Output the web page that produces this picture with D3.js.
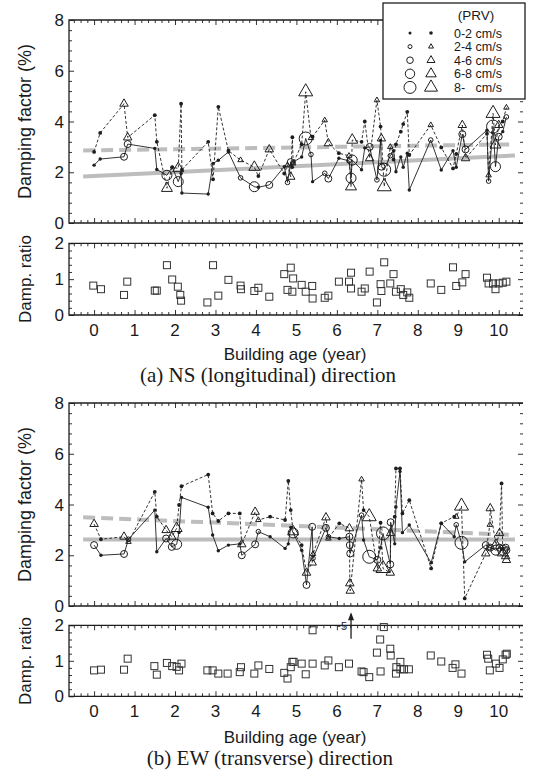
<!DOCTYPE html>
<html><head><meta charset="utf-8">
<script src="https://cdn.jsdelivr.net/npm/d3@7/dist/d3.min.js"></script>
<style>
body{margin:0;background:#fff}
svg{display:block}
text{font-family:"Liberation Sans",Arial,sans-serif;fill:#1a1a1a}
.serif{font-family:"Liberation Serif","Times New Roman",serif}
</style>
</head><body>
<svg id="c" width="541" height="777"></svg>
<script>
// ---------- tick labels / categories ----------
const xTicks = [0,1,2,3,4,5,6,7,8,9,10];
const yTicksDamp = [0,2,4,6,8];
const yTicksRatio = [0,1,2];
const prvLabels = ["0-2 cm/s","2-4 cm/s","4-6 cm/s","6-8 cm/s","8-   cm/s"];

// ---------- (a) NS direction ----------
const nsAge  = [0.00,0.15,0.74,0.83,1.50,1.55,1.80,1.93,2.08,2.15,2.17,2.82,2.94,3.07,3.32,3.62,3.96,4.06,4.33,4.70,4.78,4.86,4.90,4.92,5.13,5.23,5.36,5.40,5.70,5.79,6.05,6.30,6.35,6.38,6.61,6.69,6.81,6.99,7.08,7.10,7.17,7.32,7.40,7.46,7.58,7.64,7.74,7.79,8.32,8.58,8.87,8.95,9.10,9.18,9.71,9.75,9.86,9.92,10.00,10.10,10.19];
const nsCirc = [2.28,2.52,2.61,3.11,2.94,2.11,1.88,2.20,1.63,1.95,1.18,1.14,2.35,2.47,2.80,1.78,1.43,1.41,1.50,2.22,1.60,2.40,2.20,2.40,2.60,3.33,2.70,1.63,1.96,1.75,2.55,2.45,1.77,2.48,2.10,2.96,3.00,1.70,3.25,2.22,2.10,2.65,2.85,2.02,2.60,2.20,2.75,1.30,3.27,2.09,2.85,2.20,3.50,2.90,3.66,1.65,3.80,2.22,3.40,3.60,4.18];
const nsTri  = [2.80,3.55,4.70,3.37,4.25,3.20,1.37,2.20,2.15,4.70,2.10,3.20,1.72,4.58,2.85,2.48,2.20,1.85,2.90,1.95,2.28,1.82,3.38,2.35,3.10,5.17,3.35,3.40,4.05,3.14,2.75,2.65,1.43,3.27,3.20,4.00,2.55,4.84,3.80,3.33,1.43,3.00,2.50,3.10,3.60,3.90,4.38,2.68,3.86,2.98,2.15,2.72,3.86,2.55,3.52,1.88,4.32,3.08,3.86,4.00,4.55];
const nsPrv  = [0,0,2,2,0,0,3,0,3,0,0,0,0,0,0,1,3,0,2,0,1,2,0,1,0,4,1,0,1,2,0,1,3,3,0,0,2,1,0,2,4,1,0,0,0,0,0,0,1,0,0,0,2,2,0,1,4,3,2,0,1];
const nsRatioAge = [-0.02,0.17,0.74,0.82,1.50,1.55,1.80,1.93,2.07,2.13,2.15,2.80,2.94,3.07,3.32,3.62,3.63,3.96,4.06,4.33,4.70,4.78,4.86,4.90,4.92,5.13,5.23,5.39,5.40,5.70,5.79,6.05,6.30,6.35,6.35,6.61,6.69,6.81,6.99,7.08,7.10,7.17,7.32,7.40,7.46,7.58,7.64,7.74,7.79,8.32,8.58,8.87,8.95,9.10,9.18,9.71,9.75,9.86,9.92,10.00,10.10,10.19];
const nsRatio    = [0.82,0.72,0.56,0.93,0.68,0.68,1.39,0.99,0.79,0.56,0.40,0.35,1.39,0.54,0.98,0.82,0.72,0.67,0.76,0.51,1.14,0.70,1.32,0.65,1.02,0.84,0.65,0.81,0.46,0.48,0.54,0.93,0.93,1.18,0.74,0.65,0.74,1.21,0.35,0.86,0.67,1.47,0.88,1.14,0.65,0.72,0.56,0.63,0.48,0.88,0.70,1.33,0.81,0.91,1.14,1.04,0.88,0.88,0.72,0.88,0.90,0.93];
const nsTrendAge  = [-0.27,10.4];
const nsTrendCirc = [1.83,2.66];
const nsTrendTri  = [2.86,3.10];

// ---------- (b) EW direction ----------
const ewAge  = [0.00,0.17,0.74,0.85,1.50,1.55,1.78,1.92,2.04,2.10,2.16,2.82,2.93,3.07,3.32,3.60,3.65,3.98,4.06,4.35,4.72,4.80,4.86,4.92,5.13,5.25,5.39,5.41,5.73,5.79,6.06,6.31,6.32,6.33,6.61,6.66,6.80,7.00,7.08,7.14,7.32,7.33,7.43,7.46,7.56,7.62,7.79,8.33,8.58,8.90,8.95,9.08,9.16,9.68,9.78,9.79,9.93,10.02,10.07,10.10,10.17,10.19];
const ewCirc = [2.40,2.00,2.05,2.63,3.78,2.14,2.66,2.33,2.43,2.90,4.28,3.89,2.80,2.18,2.40,2.45,2.00,2.43,2.93,2.73,2.27,2.45,3.10,2.88,2.20,0.83,3.12,1.88,3.08,2.73,2.66,2.73,2.40,2.07,3.58,2.60,1.94,1.82,2.30,2.86,1.64,3.30,2.45,3.90,5.30,2.89,3.19,1.70,3.26,2.73,3.20,2.49,1.74,2.40,2.30,2.30,2.20,2.30,2.25,2.20,2.30,2.20];
const ewTri  = [3.23,2.63,2.73,2.53,4.50,3.52,2.99,2.73,3.06,3.98,4.72,5.18,3.65,3.35,3.65,3.65,2.43,3.71,3.39,3.52,3.39,4.93,3.78,2.93,2.40,1.31,1.71,2.05,3.49,2.66,3.26,3.06,0.89,0.60,4.99,3.78,3.52,1.48,3.28,1.48,1.31,2.87,3.52,5.42,5.42,3.65,4.17,1.48,3.26,3.52,3.52,3.94,0.30,2.07,3.20,3.85,2.40,2.87,4.83,2.10,1.96,1.81];
const ewPrv  = [2,0,2,1,0,0,2,2,3,0,0,0,0,0,0,0,2,2,1,0,0,0,0,3,0,2,2,1,2,1,0,2,2,2,1,0,4,2,0,4,2,2,0,0,0,0,0,0,0,0,1,4,0,2,1,2,3,2,0,3,2,2];
const ewRatioAge = [0.00,0.17,0.74,0.83,1.49,1.55,1.80,1.93,2.04,2.10,2.16,2.80,2.93,3.07,3.30,3.60,3.63,3.96,4.06,4.33,4.70,4.78,4.86,4.90,4.93,5.13,5.23,5.40,5.40,5.70,5.79,6.05,6.30,6.61,6.66,6.80,6.99,7.07,7.08,7.16,7.32,7.33,7.46,7.47,7.57,7.57,7.66,7.78,8.32,8.58,8.86,8.93,9.08,9.71,9.74,9.78,9.93,10.02,10.10,10.17,10.20];
const ewRatio    = [0.73,0.75,0.75,1.06,0.85,0.61,0.94,0.85,0.83,0.73,0.92,0.73,0.73,0.64,0.64,0.68,0.82,0.64,0.87,0.77,0.66,0.50,0.82,0.97,0.97,0.92,0.62,0.92,1.86,0.87,1.01,0.82,0.92,0.70,0.68,0.54,1.23,1.60,0.70,1.95,1.34,1.15,0.64,0.82,0.97,0.76,0.76,0.76,1.15,0.98,0.80,0.90,0.64,1.17,1.06,0.73,0.92,0.80,1.04,1.17,1.20];
const ewOffAge = [6.35];        // off-scale ratio (about 5)
const ewOffRange = [1.62,2.37];
const ewOffLabel = "~5";
const ewTrendAge  = [-0.27,10.4];
const ewTrendCirc = [2.62,2.62];
const ewTrendTri  = [3.50,2.80];

// ---------- drawing ----------
const svg = d3.select("#c");
const X0 = 69, X1 = 523;
const x = d3.scaleLinear().domain([-0.62,10.6]).range([X0,X1]);
const xMinor = d3.range(-3,64).map(i=>i/6).filter(v=>v>=-0.6 && v<=10.55 && Math.abs(v-Math.round(v))>1e-6);
const INK = "#1e1e1e";
const circR = [1.6,2.3,3.5,5.0,6.5];
const triS  = [0,5.5,8.5,11,14];
const triSym = s => d3.symbol(d3.symbolTriangle, Math.sqrt(3)/4*s*s)();

function frame(y, yMajor, yMinor, xLabels){
  const [b,t] = y.range();
  const g = svg.append("g");
  const ax = (gen, vals, len, tr) => {
    const a = g.append("g").attr("transform", tr).call(gen.tickValues(vals).tickSize(-len).tickFormat(""));
    a.select(".domain").remove();
    a.selectAll("line").attr("stroke", "#333").attr("stroke-width", 1);
  };
  ax(d3.axisBottom(x), xTicks, 5, `translate(0,${b})`);
  ax(d3.axisBottom(x), xMinor, 3, `translate(0,${b})`);
  ax(d3.axisTop(x), xTicks, 5, `translate(0,${t})`);
  ax(d3.axisTop(x), xMinor, 3, `translate(0,${t})`);
  ax(d3.axisLeft(y), yMajor, 5, `translate(${X0},0)`);
  ax(d3.axisLeft(y), yMinor, 3, `translate(${X0},0)`);
  ax(d3.axisRight(y), yMajor, 5, `translate(${X1},0)`);
  ax(d3.axisRight(y), yMinor, 3, `translate(${X1},0)`);
  g.append("path").attr("d", `M${X1},${t}H${X0}V${b}H${X1}`).attr("fill","none").attr("stroke",INK).attr("stroke-width",1.3);
  g.selectAll(".yl").data(yMajor).join("text").attr("x", X0-5).attr("y", d=>y(d)+6)
    .attr("text-anchor","end").attr("font-size",17).text(d=>d);
  if (xLabels) {
    g.selectAll(".xl").data(xTicks).join("text").attr("x", d=>x(d)).attr("y", b+21)
      .attr("text-anchor","middle").attr("font-size",17).text(d=>d);
  }
}

function yTitle(txt, cy, size){
  svg.append("text").attr("transform",`translate(31,${cy}) rotate(-90)`).attr("text-anchor","middle")
    .attr("font-size",size).text(txt);
}

function dampPanel(y, age, circ, tri, prv, tAge, tCirc, tTri){
  const g = svg.append("g");
  const tl = d3.line().x(d=>x(d[0])).y(d=>y(d[1]));
  g.append("path").attr("d", tl(tAge.map((a,i)=>[a,tCirc[i]]))).attr("stroke","#bdbdbd").attr("stroke-width",4).attr("fill","none");
  g.append("path").attr("d", tl(tAge.map((a,i)=>[a,tTri[i]]))).attr("stroke","#bdbdbd").attr("stroke-width",4).attr("stroke-dasharray","12,6").attr("fill","none");
  const line = d3.line().x(d=>x(d[0])).y(d=>y(d[1]));
  g.append("path").attr("d", line(age.map((a,i)=>[a,tri[i]]))).attr("fill","none").attr("stroke",INK).attr("stroke-width",0.9).attr("stroke-dasharray","3,2");
  g.append("path").attr("d", line(age.map((a,i)=>[a,circ[i]]))).attr("fill","none").attr("stroke",INK).attr("stroke-width",0.9);
  age.forEach((a,i)=>{
    const p = prv[i];
    if (p===0){
      g.append("circle").attr("cx",x(a)).attr("cy",y(circ[i])).attr("r",1.7).attr("fill",INK);
      g.append("circle").attr("cx",x(a)).attr("cy",y(tri[i])).attr("r",1.9).attr("fill",INK);
    } else {
      g.append("circle").attr("cx",x(a)).attr("cy",y(circ[i])).attr("r",circR[p]).attr("fill","none").attr("stroke",INK).attr("stroke-width",1);
      g.append("path").attr("d",triSym(triS[p])).attr("transform",`translate(${x(a)},${y(tri[i])})`).attr("fill","none").attr("stroke",INK).attr("stroke-width",1);
    }
  });
}

function ratioPanel(y, age, ratio){
  svg.append("g").selectAll("rect").data(age.map((a,i)=>[a,ratio[i]])).join("rect")
    .attr("x",d=>x(d[0])-3.5).attr("y",d=>y(d[1])-3.5).attr("width",7).attr("height",7)
    .attr("fill","none").attr("stroke","#333").attr("stroke-width",1);
}

const yA  = d3.scaleLinear().domain([0,8]).range([223,20]);
const yAr = d3.scaleLinear().domain([0,2]).range([315,243.3]);
const yB  = d3.scaleLinear().domain([0,8]).range([606,403]);
const yBr = d3.scaleLinear().domain([0,2]).range([696.3,625.3]);

frame(yA, yTicksDamp, d3.range(0,8.01,0.4).filter(v=>Math.abs(v/2-Math.round(v/2))>1e-6), false);
dampPanel(yA, nsAge, nsCirc, nsTri, nsPrv, nsTrendAge, nsTrendCirc, nsTrendTri);
frame(yAr, yTicksRatio, d3.range(0,2.01,0.2).filter(v=>Math.abs(v-Math.round(v))>1e-6), true);
ratioPanel(yAr, nsRatioAge, nsRatio);

frame(yB, yTicksDamp, d3.range(0,8.01,0.4).filter(v=>Math.abs(v/2-Math.round(v/2))>1e-6), false);
dampPanel(yB, ewAge, ewCirc, ewTri, ewPrv, ewTrendAge, ewTrendCirc, ewTrendTri);
frame(yBr, yTicksRatio, d3.range(0,2.01,0.2).filter(v=>Math.abs(v-Math.round(v))>1e-6), true);
ratioPanel(yBr, ewRatioAge, ewRatio);

// off-scale arrow
ewOffAge.forEach(a=>{
  svg.append("line").attr("x1",x(a)).attr("x2",x(a)).attr("y1",yBr(ewOffRange[0])).attr("y2",yBr(ewOffRange[1])+2)
    .attr("stroke",INK).attr("stroke-width",1.3);
  svg.append("path").attr("d",`M${x(a)-3},${yBr(ewOffRange[1])+8}L${x(a)},${yBr(ewOffRange[1])}L${x(a)+3},${yBr(ewOffRange[1])+8}Z`).attr("fill",INK);
  svg.append("text").attr("x",x(a)-4).attr("y",yBr(2)+5).attr("text-anchor","end").attr("font-size",11).text(ewOffLabel);
});

// titles
yTitle("Damping factor (%)", 121.5, 18);
yTitle("Damp. ratio", 279, 17);
yTitle("Damping factor (%)", 504.5, 18);
yTitle("Damp. ratio", 661, 17);
svg.append("text").attr("x",295).attr("y",360).attr("text-anchor","middle").attr("font-size",17).text("Building age (year)");
svg.append("text").attr("x",295).attr("y",743).attr("text-anchor","middle").attr("font-size",17).text("Building age (year)");
svg.append("text").attr("class","serif").attr("x",268).attr("y",382).attr("text-anchor","middle").attr("font-size",21).text("(a) NS (longitudinal) direction");
svg.append("text").attr("class","serif").attr("x",270).attr("y",765).attr("text-anchor","middle").attr("font-size",21).text("(b) EW (transverse) direction");

// legend
const lg = svg.append("g");
lg.append("rect").attr("x",383).attr("y",3).attr("width",142).attr("height",96).attr("fill","#fff").attr("stroke",INK).attr("stroke-width",1.3);
lg.append("text").attr("x",476).attr("y",20).attr("text-anchor","middle").attr("font-size",13.5).text("(PRV)");
prvLabels.forEach((lab,i)=>{
  const cy = 33 + i*13.6;
  if (i===0){
    lg.append("circle").attr("cx",410).attr("cy",cy).attr("r",1.5).attr("fill",INK);
    lg.append("circle").attr("cx",431).attr("cy",cy).attr("r",1.8).attr("fill",INK);
  } else {
    lg.append("circle").attr("cx",410).attr("cy",cy).attr("r",[0,2,3.3,4.7,6][i]).attr("fill","none").attr("stroke",INK);
    lg.append("path").attr("d",triSym([0,5,8,10.5,13][i])).attr("transform",`translate(431,${cy})`).attr("fill","none").attr("stroke",INK);
  }
  lg.append("text").attr("x",454).attr("y",cy+4.5).attr("font-size",12.5).style("white-space","pre").text(lab);
});
</script>
</body></html>
